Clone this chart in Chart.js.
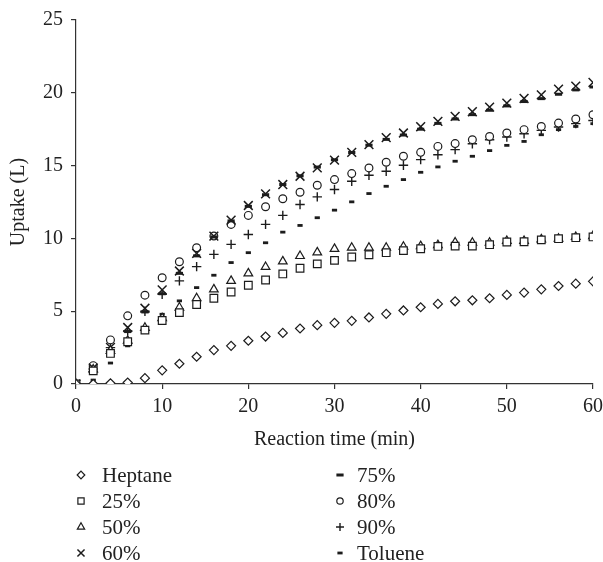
<!DOCTYPE html>
<html>
<head>
<meta charset="utf-8">
<script src="https://cdn.jsdelivr.net/npm/chart.js@4.4.0/dist/chart.umd.min.js"></script>
<style>
  html, body { margin: 0; background: #fff; }
</style>
</head>
<body>
<canvas id="chart" width="603" height="562"></canvas>
<script>
// Uptake vs reaction time, sampled every 2 min
const times = [0, 2, 4, 6, 8, 10, 12, 14, 16, 18, 20, 22, 24, 26, 28, 30,
               32, 34, 36, 38, 40, 42, 44, 46, 48, 50, 52, 54, 56, 58, 60];

const heptane = [0, 0, 0.05, 0.1, 0.4, 0.94, 1.39, 1.87, 2.33, 2.62, 2.97, 3.26, 3.51, 3.81, 4.04, 4.2,
                 4.34, 4.57, 4.82, 5.05, 5.27, 5.5, 5.68, 5.75, 5.89, 6.12, 6.28, 6.5, 6.73, 6.89, 7.05];
const pct25 = [0, 0.9, 2.1, 2.9, 3.7, 4.36, 4.9, 5.46, 5.89, 6.32, 6.78, 7.14, 7.56, 7.95, 8.25, 8.49,
               8.72, 8.88, 9.02, 9.16, 9.29, 9.45, 9.47, 9.47, 9.57, 9.75, 9.77, 9.9, 9.98, 10.05, 10.1];
const pct50 = [0, 1.0, 2.28, 2.97, 3.86, 4.52, 5.25, 5.89, 6.5, 7.08, 7.6, 8.04, 8.42, 8.79, 9.04, 9.28,
               9.36, 9.36, 9.36, 9.43, 9.47, 9.54, 9.72, 9.7, 9.7, 9.82, 9.82, 9.93, 9.98, 10.1, 10.16];
const pct60 = [0, 1.1, 2.51, 3.88, 5.2, 6.46, 7.76, 8.97, 10.16, 11.25, 12.26, 13.06, 13.7, 14.27, 14.84, 15.38,
               15.91, 16.44, 16.92, 17.24, 17.67, 18.04, 18.38, 18.7, 19.02, 19.29, 19.61, 19.86, 20.25, 20.46, 20.71];
const pct75 = [0, 1.0, 2.3, 3.6, 4.95, 6.2, 7.6, 8.8, 10.1, 11.2, 12.2, 13.0, 13.7, 14.3, 14.9, 15.4,
               15.9, 16.4, 16.8, 17.1, 17.5, 17.9, 18.2, 18.5, 18.8, 19.1, 19.4, 19.6, 19.9, 20.2, 20.4];
const pct80 = [0, 1.26, 3.03, 4.68, 6.1, 7.3, 8.4, 9.36, 10.16, 10.96, 11.58, 12.17, 12.72, 13.17, 13.65, 14.04,
               14.45, 14.84, 15.23, 15.64, 15.91, 16.32, 16.51, 16.78, 17.0, 17.24, 17.47, 17.69, 17.92, 18.2, 18.49];
const pct90 = [0, 1.03, 2.5, 3.65, 5.0, 6.16, 7.08, 8.06, 8.9, 9.59, 10.27, 10.96, 11.58, 12.33, 12.85, 13.36,
               13.93, 14.34, 14.61, 15.02, 15.41, 15.75, 16.1, 16.5, 16.78, 16.96, 17.19, 17.42, 17.65, 17.88, 18.1];
const toluene = [0, 0.27, 1.44, 2.62, 3.75, 4.79, 5.71, 6.62, 7.47, 8.34, 9.02, 9.7, 10.43, 10.89, 11.42, 11.94,
                 12.51, 13.08, 13.58, 14.04, 14.54, 14.91, 15.3, 15.64, 16.03, 16.39, 16.66, 17.12, 17.47, 17.69, 17.88];

const xTicks = [0, 10, 20, 30, 40, 50, 60];
const yTicks = [0, 5, 10, 15, 20, 25];

const INK = '#1c1c1c';
const SERIF = '"Liberation Serif", "DejaVu Serif", serif';

function series(label, values, style, radius, width, legendRadius) {
  return {
    label,
    data: values.map((v, i) => ({ x: times[i], y: v })),
    pointStyle: style,
    pointRadius: radius,
    pointBorderWidth: width,
    pointBorderColor: INK,
    pointBackgroundColor: '#fff',
    borderColor: INK,
    backgroundColor: '#fff',
    borderWidth: width,
    legendRadius: legendRadius,
    showLine: false
  };
}

// legend is drawn in two columns (4 rows each), like the figure
const columnLegend = {
  id: 'columnLegend',
  afterDraw(chart) {
    const { ctx } = chart;
    ctx.save();
    chart.data.datasets.forEach((ds, i) => {
      const col = i < 4 ? 0 : 1;
      const row = i % 4;
      const mx = col ? 340 : 81;
      const tx = col ? 357 : 102;
      const y = 475 + row * 26;
      ctx.strokeStyle = INK;
      ctx.fillStyle = '#fff';
      ctx.lineWidth = ds.pointBorderWidth;
      Chart.helpers.drawPoint(ctx, {
        pointStyle: ds.pointStyle,
        radius: ds.legendRadius,
        rotation: 0,
        borderWidth: ds.pointBorderWidth
      }, mx, y);
      ctx.fillStyle = '#222';
      ctx.font = '21px ' + SERIF;
      ctx.textBaseline = 'middle';
      ctx.textAlign = 'left';
      ctx.fillText(ds.label, tx, y + 1);
    });
    ctx.restore();
  }
};

new Chart(document.getElementById('chart').getContext('2d'), {
  type: 'scatter',
  data: {
    datasets: [
      series('Heptane', heptane, 'rectRot', 4.5, 1.2, 3.8),
      series('25%', pct25, 'rect', 5.4, 1.2, 4.4),
      series('50%', pct50, 'triangle', 5, 1.2, 4.2),
      series('60%', pct60, 'crossRot', 6.2, 1.5, 5),
      series('75%', pct75, 'line', 3.6, 3, 3.6),
      series('80%', pct80, 'circle', 3.9, 1.2, 3.2),
      series('90%', pct90, 'cross', 4.7, 1.4, 4),
      series('Toluene', toluene, 'line', 2.6, 2.8, 2.6)
    ]
  },
  options: {
    responsive: false,
    animation: false,
    layout: { padding: { left: 3, right: 0, top: 17, bottom: 106 } },
    plugins: {
      legend: { display: false },
      tooltip: { enabled: false }
    },
    scales: {
      x: {
        type: 'linear',
        min: 0,
        max: 60,
        afterFit: s => { s.height = 72; s.paddingRight = 10; },
        afterBuildTicks: s => { s.ticks = xTicks.map(v => ({ value: v })); },
        border: { display: true, color: '#333', width: 1.2 },
        grid: { display: true, drawOnChartArea: false, drawTicks: true, tickLength: 5, color: '#333', lineWidth: 1.2 },
        ticks: { color: '#222', font: { family: SERIF, size: 20 }, padding: 6, maxRotation: 0 },
        title: { display: true, text: 'Reaction time (min)', color: '#222', font: { family: SERIF, size: 20 } }
      },
      y: {
        min: 0,
        max: 25,
        afterFit: s => { s.width = 73; },
        afterBuildTicks: s => { s.ticks = yTicks.map(v => ({ value: v })); },
        border: { display: true, color: '#333', width: 1.2 },
        grid: { display: true, drawOnChartArea: false, drawTicks: true, tickLength: 5, color: '#333', lineWidth: 1.2 },
        ticks: { color: '#222', font: { family: SERIF, size: 20 }, padding: 8 },
        title: { display: true, text: 'Uptake (L)', color: '#222', font: { family: SERIF, size: 20 } }
      }
    }
  },
  plugins: [columnLegend]
});
</script>
</body>
</html>
